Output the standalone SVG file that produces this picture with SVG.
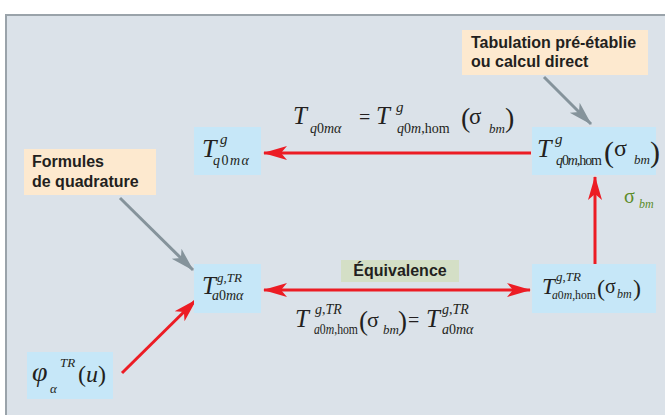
<svg xmlns="http://www.w3.org/2000/svg" width="665" height="415" viewBox="0 0 665 415">
<defs>
<style>
.lbl{font-family:"Liberation Sans",Arial,sans-serif;font-weight:bold;font-size:16px;fill:#231f20}
.m{font-family:"Liberation Serif","Times New Roman",serif;font-style:italic;fill:#231f20}
.u{font-style:normal}
.node{fill:#c6e7f8}
.note{fill:#fde9cf}
.red{stroke:#ec1c24;stroke-width:3;fill:none}
.gray{stroke:#85939b;stroke-width:3;fill:none}
.grn{fill:#5b8c2a}
</style>
<marker id="ar" viewBox="0 0 24 16" refX="23" refY="8" markerWidth="24" markerHeight="16" markerUnits="userSpaceOnUse" orient="auto-start-reverse">
<path d="M0,1 L24,8 L0,15 L6,8 Z" fill="#ec1c24"/>
</marker>
<marker id="ag" viewBox="0 0 24 16" refX="23" refY="8" markerWidth="24" markerHeight="16" markerUnits="userSpaceOnUse" orient="auto">
<path d="M0,1 L24,8 L0,15 L6,8 Z" fill="#85939b"/>
</marker>
</defs>
<rect x="0" y="0" width="665" height="415" fill="#ffffff"/>
<rect x="6" y="15" width="665" height="410" fill="#dbe2e9" stroke="#9aa3aa" stroke-width="2"/>

<g id="connectors">
<line class="red" x1="531" y1="153" x2="264" y2="153" marker-end="url(#ar)"/>
<line class="red" x1="264" y1="290" x2="530" y2="290" marker-start="url(#ar)" marker-end="url(#ar)"/>
<line class="red" x1="595" y1="264" x2="595" y2="177" marker-end="url(#ar)"/>
<line class="red" x1="122" y1="373" x2="196" y2="300" marker-end="url(#ar)"/>
<line class="gray" x1="544" y1="77" x2="591" y2="124" marker-end="url(#ag)"/>
<line class="gray" x1="120" y1="198" x2="193" y2="270" marker-end="url(#ag)"/>
</g>

<g id="note-tabulation">
<rect class="note" x="462" y="30" width="186" height="45"/>
<text class="lbl" x="471" y="48">Tabulation pré-établie</text>
<text class="lbl" x="471" y="67">ou calcul direct</text>
</g>

<g id="note-formules">
<rect class="note" x="24" y="149" width="132" height="46"/>
<text class="lbl" x="32" y="167">Formules</text>
<text class="lbl" x="32" y="187">de quadrature</text>
</g>

<g id="label-equivalence">
<rect x="341" y="260" width="118" height="22" fill="#d4dfc6"/>
<text class="lbl" x="400" y="276" text-anchor="middle">Équivalence</text>
</g>

<g id="node-Tq0ma">
<rect class="node" x="194" y="127" width="67" height="48"/>
<text class="m" font-size="26" x="202" y="157">T</text>
<text class="m" font-size="15" x="220" y="144">g</text>
<text class="m" font-size="14" x="213" y="165" letter-spacing="1.5">q<tspan class="u">0</tspan>mα</text>
</g>

<g id="node-Tq0mhom">
<rect class="node" x="532" y="127" width="124" height="48"/>
<text class="m" font-size="26" x="537" y="157">T</text>
<text class="m" font-size="15" x="555" y="144">g</text>
<text class="m" font-size="14" x="556" y="165" textLength="46" lengthAdjust="spacing">q<tspan class="u">0</tspan>m<tspan class="u">,hom</tspan></text>
<text class="m u" font-size="30" x="604" y="162">(</text>
<text class="m u" font-size="24" x="614" y="156">σ</text>
<text class="m" font-size="13" x="634" y="164">bm</text>
<text class="m u" font-size="30" x="650" y="162">)</text>
</g>

<g id="node-Ta0ma">
<rect class="node" x="194" y="264" width="67" height="49"/>
<text class="m" font-size="25" x="202" y="294">T</text>
<text class="m" font-size="13" x="217" y="282">g<tspan class="u">,</tspan>TR</text>
<text class="m" font-size="14" x="212" y="300">a<tspan class="u">0</tspan>mα</text>
</g>

<g id="node-Ta0mhom">
<rect class="node" x="532" y="264" width="124" height="49"/>
<text class="m" font-size="23" x="542" y="294">T</text>
<text class="m" font-size="13" x="556" y="281">g<tspan class="u">,</tspan>TR</text>
<text class="m" font-size="13" x="552" y="299" textLength="44" lengthAdjust="spacingAndGlyphs">a<tspan class="u">0</tspan>m<tspan class="u">,hom</tspan></text>
<text class="m u" font-size="24" x="597" y="296">(</text>
<text class="m u" font-size="20" x="605" y="293">σ</text>
<text class="m" font-size="12" x="617" y="298">bm</text>
<text class="m u" font-size="24" x="633" y="296">)</text>
</g>

<g id="node-phi">
<rect class="node" x="27" y="352" width="86" height="47"/>
<text class="m" font-size="28" x="32" y="381">φ</text>
<text class="m" font-size="13" x="60" y="367">TR</text>
<text class="m" font-size="13" x="50" y="393">α</text>
<text class="m" font-size="24" x="78" y="382"><tspan class="u">(</tspan>u<tspan class="u">)</tspan></text>
</g>

<g id="label-top-formula">
<text class="m" font-size="25" x="293" y="124">T</text>
<text class="m" font-size="14" x="310" y="133">q<tspan class="u">0</tspan>mα</text>
<text class="m u" font-size="20" x="359" y="124">=</text>
<text class="m" font-size="25" x="376" y="124">T</text>
<text class="m" font-size="15" x="396" y="112">g</text>
<text class="m" font-size="14" x="397" y="133">q<tspan class="u">0</tspan>m<tspan class="u">,hom</tspan></text>
<text class="m u" font-size="28" x="461" y="127">(</text>
<text class="m u" font-size="23" x="469" y="124">σ</text>
<text class="m" font-size="13" x="489" y="133">bm</text>
<text class="m u" font-size="28" x="505" y="127">)</text>
</g>

<g id="label-bottom-formula">
<text class="m" font-size="25" x="295" y="327">T</text>
<text class="m" font-size="14" x="315" y="314">g<tspan class="u">,</tspan>TR</text>
<text class="m" font-size="14" x="314" y="334" textLength="44" lengthAdjust="spacingAndGlyphs">a<tspan class="u">0</tspan>m<tspan class="u">,hom</tspan></text>
<text class="m u" font-size="27" x="359" y="330">(</text>
<text class="m u" font-size="22" x="367" y="327">σ</text>
<text class="m" font-size="13" x="383" y="334">bm</text>
<text class="m u" font-size="27" x="398" y="330">)</text>
<text class="m u" font-size="20" x="408" y="327">=</text>
<text class="m" font-size="25" x="426" y="327">T</text>
<text class="m" font-size="14" x="442" y="314">g<tspan class="u">,</tspan>TR</text>
<text class="m" font-size="14" x="442" y="334">a<tspan class="u">0</tspan>mα</text>
</g>

<g id="label-sigma">
<text class="m u grn" font-size="20" x="624" y="203">σ</text>
<text class="m grn" font-size="12" x="639" y="208">bm</text>
</g>
</svg>
